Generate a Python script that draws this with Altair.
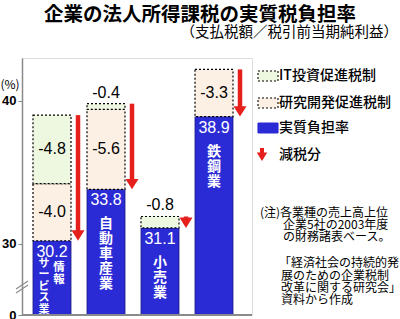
import altair as alt
import pandas as pd

# ---------------- data ----------------
categories = ["情報サービス業", "自動車産業", "小売業", "鉄鋼業"]
actual_rate = [30.2, 33.8, 31.1, 38.9]          # 実質負担率 (%)
rd_cut = [-4.0, -5.6, None, -3.3]               # 研究開発促進税制
it_cut = [-4.8, -0.4, -0.8, None]               # IT投資促進税制
axis_zero = 25                                   # broken axis: "0" sits here
y_tick_values = [25, 30, 40]
y_tick_labels = ["0", "30", "40"]
legend_labels = ["IT投資促進税制", "研究開発促進税制", "実質負担率", "減税分"]
title_text = "企業の法人所得課税の実質税負担率"
subtitle_text = "（支払税額／税引前当期純利益）"
note_lines = ["(注)各業種の売上高上位", "企業5社の2003年度", "の財務諸表ベース。",
              "「経済社会の持続的発", "展のための企業税制", "改革に関する研究会」", "資料から作成"]

# ---------------- styling ----------------
BLUE = "#2b2bd6"
PEACH = "#fcefe3"
GREEN = "#eef8e1"
RED = "#e5201c"
BG = "#e3f9fc"
GRAY = "#8a8a8a"
JP = "Noto Sans CJK JP"
NUM = "Liberation Sans"
W, H = 230, 257

# ---------------- tables ----------------
segs, arrows = [], []
for c, a, r, i in zip(categories, actual_rate, rd_cut, it_cut):
    segs.append(dict(cat=c, kind="actual", y0=axis_zero, y1=a, label=f"{a:.1f}",
                     mid=a, small=False))
    top = a
    for kind, v in (("rd", r), ("it", i)):
        if v is not None:
            segs.append(dict(cat=c, kind=kind, y0=top, y1=round(top - v, 2), label=f"{v:.1f}",
                             mid=top - v / 2, small=bool(abs(v) < 1)))
            top = round(top - v, 2)
    arrows.append(dict(cat=c, top=top, base=a))
segs = pd.DataFrame(segs)
segs["small"] = segs["small"].astype(bool)
arrows = pd.DataFrame(arrows)
blue = segs[segs.kind == "actual"]
cuts = segs[segs.kind != "actual"]

# vertical category names
vl = []
for c, a in zip(categories, actual_rate):
    if c == "情報サービス業":
        vl.append(dict(cat=c, top=a, col="R", text="\n".join(c[:2])))
        vl.append(dict(cat=c, top=a, col="L", text="\n".join(c[2:])))
    else:
        vl.append(dict(cat=c, top=a, col="S", text="\n".join(c)))
vl = pd.DataFrame(vl)

xs = alt.X("cat:N", sort=categories, axis=None,
           scale=alt.Scale(range=[3, 219], paddingInner=0.296, paddingOuter=0.148))
ys = alt.Scale(domain=[axis_zero, 43], nice=False, zero=False)

base_axis = alt.Axis(values=y_tick_values, title=None, grid=False,
                     labelExpr="datum.value == 25 ? '0' : datum.label",
                     labelFont=NUM, labelFontWeight="bold", labelFontSize=13,
                     labelColor="black", domainColor=GRAY, domainWidth=1.5,
                     tickColor=GRAY, tickSize=4, labelPadding=2)

bars = alt.Chart(blue).mark_bar(color=BLUE, stroke="#1a1a80", strokeWidth=0.8).encode(
    x=xs, y=alt.Y("y1:Q", scale=ys, axis=base_axis), y2="y0:Q")

boxes = alt.Chart(cuts).mark_bar(stroke="black", strokeDash=[2, 2], strokeWidth=1.2).encode(
    x=xs, y="y1:Q", y2="y0:Q",
    color=alt.Color("kind:N", scale=alt.Scale(domain=["it", "rd"], range=[GREEN, PEACH]),
                    legend=None))

cut_in = alt.Chart(cuts[~cuts["small"]]).mark_text(font=NUM, fontSize=16, color="black").encode(
    x=xs, y="mid:Q", text="label:N")
cut_above = alt.Chart(cuts[cuts["small"]]).mark_text(font=NUM, fontSize=16, color="black",
                                                     dy=-11).encode(
    x=xs, y="y1:Q", text="label:N")

val_lbl = alt.Chart(blue).mark_text(font=NUM, fontSize=16, color="white", baseline="middle",
                                    dy=11).encode(x=xs, y="y1:Q", text="label:N")

def vtext(col, dx, dy, size, lh):
    return alt.Chart(vl[vl.col == col]).mark_text(
        font=JP, fontSize=size, fontWeight="bold", color="white", baseline="top",
        lineBreak="\n", lineHeight=lh, dx=dx, dy=dy).encode(x=xs, y="top:Q", text="text:N")

vt_s = vtext("S", 0, 28, 14, 15)
vt_r = vtext("R", 7, 21, 11.5, 12)
vt_l = vtext("L", -8, 17, 11, 11.5)

shaft = alt.Chart(arrows).mark_rule(color=RED, strokeWidth=4.5, xOffset=26, y2Offset=-8).encode(
    x=xs, y="top:Q", y2="base:Q")
ARROW = "M-1,-1.6L1,-1.6L0,0Z"
head = alt.Chart(arrows).mark_point(shape=ARROW, size=169, filled=True, color=RED,
                                    opacity=1, xOffset=26).encode(x=xs, y="base:Q")

# x baseline
baseline = alt.Chart(pd.DataFrame({"a": [0]})).mark_rule(color=GRAY, strokeWidth=2).encode(
    x=alt.value(0), x2=alt.value(W), y=alt.value(H))

# axis break marks
breaks = [alt.Chart(pd.DataFrame({"a": [0]})).mark_rule(color=GRAY, strokeWidth=1.2).encode(
    x=alt.value(-6), x2=alt.value(6), y=alt.value(231 + 4 * k), y2=alt.value(223 + 4 * k))
    for k in range(2)]

def txt(s, x, y, **kw):
    return alt.Chart(pd.DataFrame({"t": [s]})).mark_text(**kw).encode(
        text="t:N", x=alt.value(x), y=alt.value(y))

title = txt(title_text, 178, -43, font=JP, fontSize=19.5, fontWeight="bold", color="black")
subtitle = txt(subtitle_text, 376, -25, font=JP, fontSize=14.5, align="right", color="black")
pct = txt("(%)", -12, 27, font=JP, fontSize=12, color="black")

# legend
leg = []
sw_fill = [GREEN, PEACH, BLUE]
leg_y = [18, 45, 70, 97]
for k in range(3):
    dash = [2, 2] if k < 2 else [1, 0]
    leg.append(alt.Chart(pd.DataFrame({"a": [0]})).mark_rect(
        fill=sw_fill[k], stroke="black" if k < 2 else BLUE, strokeDash=dash,
        strokeWidth=1.1).encode(x=alt.value(236), x2=alt.value(256),
                                y=alt.value(leg_y[k] - 5), y2=alt.value(leg_y[k] + 5)))
leg.append(alt.Chart(pd.DataFrame({"a": [0]})).mark_rule(color=RED, strokeWidth=4).encode(
    x=alt.value(240), y=alt.value(90), y2=alt.value(96)))
leg.append(alt.Chart(pd.DataFrame({"a": [0]})).mark_point(
    shape=ARROW, size=110, filled=True, color=RED, opacity=1).encode(
    x=alt.value(240), y=alt.value(103)))
for k, lab in enumerate(legend_labels):
    leg.append(txt(lab, 257, leg_y[k], font=JP, fontSize=14, align="left",
                   baseline="middle", color="black", fontWeight=500))

# notes
note_x = [238, 261, 261, 257, 259, 259, 259]
note_y = [155, 167, 179, 205, 218, 230, 242]
notes = [txt(s, x, y, font=JP, fontSize=12, align="left", baseline="middle", color="black")
         for s, x, y in zip(note_lines, note_x, note_y)]

chart = alt.layer(
    bars, boxes, cut_in, cut_above, val_lbl, vt_s, vt_r, vt_l, shaft, head, baseline,
    *breaks, title, subtitle, pct, *leg, *notes
).properties(
    width=W, height=H,
    padding={"left": 22, "top": 58, "right": 148, "bottom": 4},
    autosize=alt.AutoSizeParams(type="none"),
).configure_view(fill=BG, stroke=None).configure(background="white")

chart.save("out.html", embed_options={"renderer": "svg", "actions": False})
